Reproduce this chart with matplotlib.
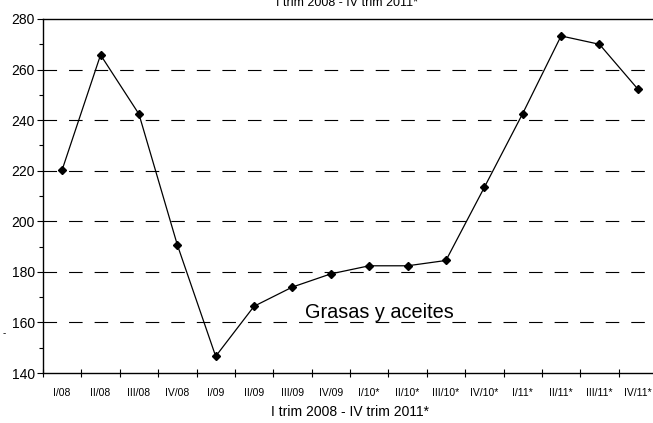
import numpy as np
import matplotlib.pyplot as plt
from matplotlib.ticker import MultipleLocator, FixedLocator

plt.rcParams['font.family'] = ['Liberation Sans', 'DejaVu Sans']

quarters = ["I/08", "II/08", "III/08", "IV/08", "I/09", "II/09", "III/09", "IV/09",
            "I/10*", "II/10*", "III/10*", "IV/10*", "I/11*", "II/11*", "III/11*", "IV/11*"]
values = [220.4, 265.8, 242.4, 190.7, 146.6, 166.4, 174.0, 179.2,
          182.4, 182.4, 184.5, 213.4, 242.6, 273.3, 270.0, 252.3]
period = "I trim 2008 - IV trim 2011*"
series_label = "Grasas y aceites"

fig = plt.figure(figsize=(6.53, 4.23), dpi=100)
ax = fig.add_axes([43 / 653, 50 / 423, 614 / 653, 354 / 423])

x = np.arange(len(quarters))
ax.plot(x, values, color='black', linewidth=0.9, marker='D', markersize=3.6,
        markerfacecolor='black', markeredgecolor='black', zorder=3)

ax.set_xlim(-0.5, len(quarters) - 0.5)
ax.set_ylim(140, 280)

# dashed grid only for inner levels
for level in range(160, 280, 20):
    ax.axhline(level, color='black', linewidth=0.8, linestyle=(0, (12.2, 10.8)), zorder=1)

ax.yaxis.set_major_locator(MultipleLocator(20))
ax.yaxis.set_minor_locator(MultipleLocator(10))
ax.tick_params(axis='y', which='major', direction='out', length=4, width=0.8, labelsize=10, pad=2)
ax.tick_params(axis='y', which='minor', direction='out', length=3, width=0.8)

ax.xaxis.set_major_locator(FixedLocator(np.arange(-0.5, len(quarters), 1.0)))
ax.xaxis.set_minor_locator(FixedLocator(x))
ax.xaxis.set_major_formatter(plt.NullFormatter())
ax.set_xticks(x, quarters, minor=True)
ax.tick_params(axis='x', which='major', direction='inout', length=6, width=0.8)
ax.tick_params(axis='x', which='minor', length=0, labelsize=7.5, pad=11)

for side in ['left', 'bottom', 'top']:
    ax.spines[side].set_linewidth(1.0)
ax.spines['right'].set_visible(False)

ax.set_xlabel(period, fontsize=10, labelpad=5)
ax.text(8.26, 164.0, series_label, fontsize=14.3, ha='center', va='center')

# header repeated at the very top, partly cut off as in the source
fig.text(0.532, 0.994, period, fontsize=9, ha='center', va='center')
fig.text(0.006, 0.213, "-", fontsize=7, ha='center', va='center')

fig.savefig("out.png", dpi=100)
